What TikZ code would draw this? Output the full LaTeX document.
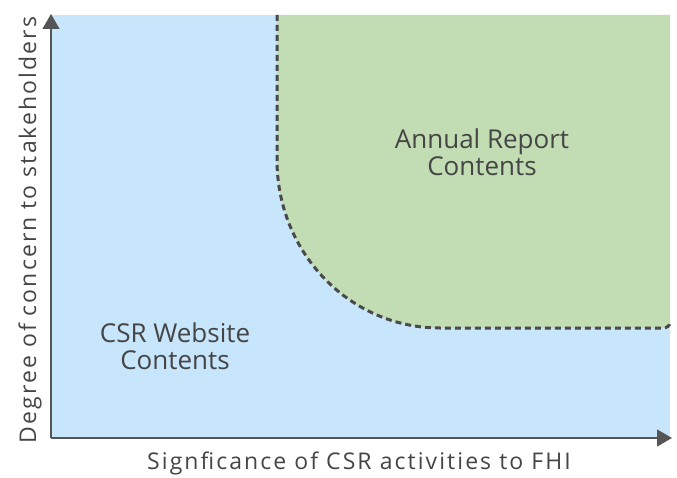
\documentclass[tikz,border=0pt]{standalone}
\usepackage{fontspec}
\setmainfont{Open Sans}
\newfontfamily\spacedfont[LetterSpace=9]{Open Sans}
\usetikzlibrary{arrows.meta}
\definecolor{bluebg}{HTML}{C7E6FC}
\definecolor{greenbg}{HTML}{C2DDB4}
\definecolor{txt}{HTML}{454545}
\definecolor{axisc}{HTML}{555555}
\definecolor{dashc}{HTML}{4A4A4A}
\tikzset{
  lbl/.style={text=txt, font=\fontsize{26}{27}\selectfont, align=center, inner sep=0pt},
  axlbl/.style={text=txt, font=\spacedfont\fontsize{23}{27}\selectfont, inner sep=0pt},
  axisline/.style={draw=axisc, line width=1.3pt, -{Triangle[length=15pt,width=17pt]}},
  border/.style={draw=dashc, line width=3pt, dash pattern=on 6pt off 4pt}
}
\begin{document}
\begin{tikzpicture}[x=1pt,y=-1pt]
\useasboundingbox (0,0) rectangle (677,478);
% background areas
\fill[bluebg] (51,15) rectangle (670,438);
\fill[greenbg] (277,15) -- (277,160) .. controls (277,253) and (350,328) .. (440,328) -- (662,328) .. controls (667,328) and (670,326) .. (670,322) -- (670,15) -- cycle;
\draw[border] (277,15) -- (277,160) .. controls (277,253) and (350,328) .. (440,328) -- (662,328) .. controls (667,328) and (670,326) .. (670,322);
% axes
\coordinate (o) at (51,438);
\coordinate (ytop) at (51,14);
\coordinate (xend) at (672,438);
\draw[axisline] (o) -- (ytop);
\draw[axisline] (o) -- (xend);
% labels
\node[lbl] (annual) at (482,152) {Annual Report\\Contents};
\node[lbl] (csr) at (175,346) {CSR Website\\Contents};
\node[axlbl] (xlab) at (359,463) {Signficance of CSR activities to FHI};
\node[axlbl, rotate=90] (ylab) at (30,230) {Degree of concern to stakeholders};
\end{tikzpicture}
\end{document}
